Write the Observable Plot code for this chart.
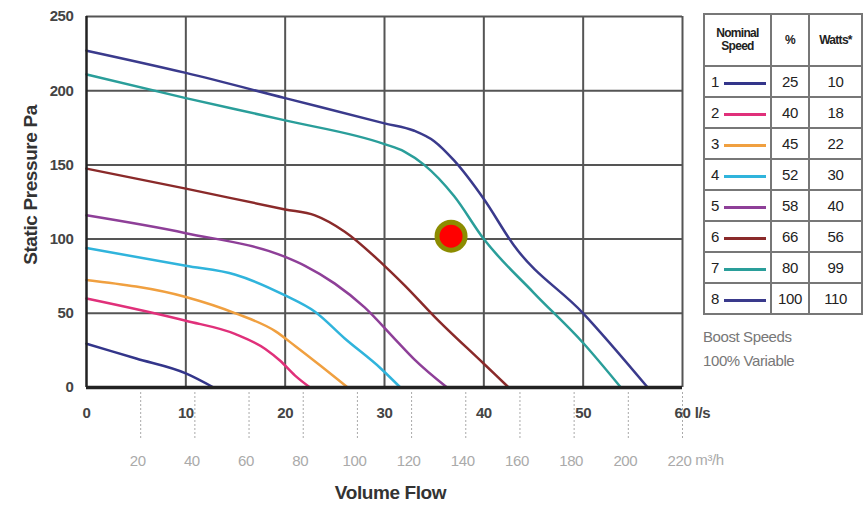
<!DOCTYPE html>
<html>
<head>
<meta charset="utf-8">
<script src="https://cdn.jsdelivr.net/npm/d3@7"></script>
<script src="https://cdn.jsdelivr.net/npm/@observablehq/plot@0.6"></script>
<style>
  html, body { margin: 0; padding: 0; background: #fff; }
  #wrap { position: relative; width: 868px; height: 509px; overflow: hidden;
    font-family: "Liberation Sans", Arial, sans-serif; letter-spacing: -0.4px; }
  #legend { position: absolute; left: 703px; top: 13px; }
  #legend table { border-collapse: collapse; color: #222; font-size: 15px; }
  #legend td { border: 2px solid #777; text-align: center; padding: 0; height: 29px; }
  #legend tr.head td { height: 50px; font-size: 12px; font-weight: bold; line-height: 13px; letter-spacing: -0.7px; }
  #legend .sw { display: inline-block; width: 42px; height: 3px; vertical-align: middle; margin-left: 5px; }
  #boost { position: absolute; left: 703px; top: 325px; color: #777; font-size: 15px; line-height: 24px; }
</style>
</head>
<body>
<div id="wrap">
  <div id="chart"></div>
  <div id="legend"></div>
  <div id="boost">Boost Speeds<br>100% Variable</div>
</div>
<script>
// ---- data ----
const lsTicks = [0, 10, 20, 30, 40, 50, 60];
const m3hTicks = [20, 40, 60, 80, 100, 120, 140, 160, 180, 200, 220];
const paTicks = [0, 50, 100, 150, 200, 250];
const speeds = [1, 2, 3, 4, 5, 6, 7, 8];
const percents = [25, 40, 45, 52, 58, 66, 80, 100];
const watts = [10, 18, 22, 30, 40, 56, 99, 110];
const colors = ["#33358a", "#e0307a", "#f0a040", "#30b4dc", "#8e3f98", "#8a2a2a", "#2a9e9a", "#3a3a8c"];

// curves: [flow l/s, static pressure Pa]
const curve1 = [[0, 29.5], [5, 19.5], [10, 9.5], [12.8, 0]];
const curve2 = [[0, 60], [10, 45], [15, 36], [18, 26], [19.5, 18], [21, 8], [22.5, 0]];
const curve3 = [[0, 72.5], [10, 61], [15, 50], [19, 38], [21, 28], [23.5, 15], [26.3, 0]];
const curve4 = [[0, 94], [10, 82], [15, 76], [20, 62], [23, 51], [26, 33], [29.6, 13], [31.6, 0]];
const curve5 = [[0, 116], [10, 104], [20, 88], [22, 82], [25, 70], [28, 54], [31, 33], [33, 19], [36.3, 0]];
const curve6 = [[0, 147.5], [10, 134], [20, 120], [23, 116], [26, 105], [30, 82], [32, 69], [35, 48], [40, 16], [42.5, 0]];
const curve7 = [[0, 211], [10, 195], [20, 180], [30, 164], [32, 159], [34, 150], [37, 129], [40, 100], [45, 64], [50, 30], [53.8, 0]];
const curve8 = [[0, 227], [10, 212], [20, 195], [30, 178], [33, 173], [35, 166], [37, 153], [40, 127], [43, 96], [50, 50], [56.5, 0]];
const curves = [curve1, curve2, curve3, curve4, curve5, curve6, curve7, curve8];
const operatingPoint = [[36.7, 102]];

// m3/h axis is drawn so that 220 m3/h lines up with 60 l/s
const m3hToLs = 60 / 220;

const font = '"Liberation Sans", Arial, sans-serif';

const plot = Plot.plot({
  width: 868,
  height: 509,
  marginLeft: 86,
  marginRight: 186,
  marginTop: 16,
  marginBottom: 122,
  style: { fontFamily: font, background: "white", letterSpacing: "-0.4px" },
  x: { domain: [0, 60], axis: null },
  y: { domain: [0, 250], axis: null },
  marks: [
    Plot.gridX(lsTicks.slice(1), { stroke: "#555", strokeOpacity: 1, strokeWidth: 2 }),
    Plot.gridY(paTicks.slice(1), { stroke: "#555", strokeOpacity: 1, strokeWidth: 2 }),
    // m3/h dotted ticks below axis
    Plot.ruleX(m3hTicks, { x: d => d * m3hToLs, insetTop: 376, insetBottom: -51, stroke: "#aaa", strokeWidth: 1, strokeDasharray: "2,2" }),
    ...curves.map((c, i) => Plot.line(c, { x: d => d[0], y: d => d[1], stroke: colors[i], strokeWidth: 2.5, curve: "monotone-x" })),
    Plot.ruleX([0], { stroke: "#222", strokeWidth: 2.5 }),
    Plot.ruleY([0], { stroke: "#222", strokeWidth: 3.5 }),
    Plot.dot(operatingPoint, { x: d => d[0], y: d => d[1], r: 14, fill: "#ff0000", stroke: "#8c8c00", strokeWidth: 5 }),
    // y tick labels
    Plot.text(paTicks, { x: 0, y: d => d, text: d => String(d), textAnchor: "end", dx: -13, fontSize: 15, fontWeight: "bold", fill: "#444" }),
    // x l/s tick labels
    Plot.text(lsTicks, { x: d => d, y: 0, text: d => String(d), dy: 26, fontSize: 15, fontWeight: "bold", fill: "#444" }),
    Plot.text(["l/s"], { x: 60, y: 0, dx: 20, dy: 26, fontSize: 15, fontWeight: "bold", fill: "#444" }),
    // m3/h tick labels
    Plot.text(m3hTicks, { x: d => d * m3hToLs, y: 0, text: d => String(d), dy: 74, dx: -3, fontSize: 15, fill: "#aaa" }),
    Plot.text(["m³/h"], { x: 60, y: 0, dx: 27, dy: 73, fontSize: 15, fill: "#aaa" }),
    // axis titles
    Plot.text(["Volume Flow"], { frameAnchor: "bottom", dx: 6, dy: 111, fontSize: 19, fontWeight: "bold", fill: "#333" }),
    Plot.text(["Static Pressure Pa"], { frameAnchor: "left", textAnchor: "middle", rotate: -90, dx: -56, dy: -17, fontSize: 19, fontWeight: "bold", fill: "#333" })
  ]
});
document.getElementById("chart").append(plot);

// legend table
const tbl = document.createElement("table");
const head = document.createElement("tr");
head.className = "head";
head.innerHTML = '<td style="width:65px">Nominal<br>Speed</td><td style="width:36px">%</td><td style="width:51px">Watts*</td>';
tbl.append(head);
speeds.forEach((s, i) => {
  const tr = document.createElement("tr");
  tr.innerHTML = `<td style="text-align:left;padding-left:6px">${s}<span class="sw" style="background:${colors[i]}"></span></td><td>${percents[i]}</td><td>${watts[i]}</td>`;
  tbl.append(tr);
});
document.getElementById("legend").append(tbl);
</script>
</body>
</html>
